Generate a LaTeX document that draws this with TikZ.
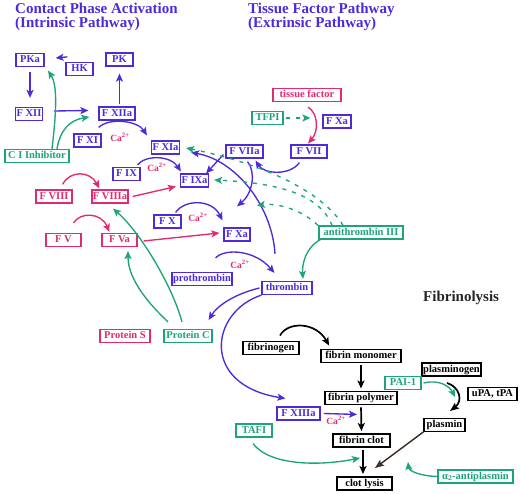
\documentclass[tikz,border=0pt]{standalone}
\usepackage{fontspec}
\setmainfont{Liberation Serif}
\usetikzlibrary{arrows.meta,calc}
\definecolor{cblue}{RGB}{78,42,218}
\definecolor{cpink}{RGB}{226,42,112}
\definecolor{cgreen}{RGB}{28,164,124}
\definecolor{cbrown}{RGB}{165,120,100}
\definecolor{cdark}{RGB}{55,40,32}
\tikzset{
  box/.style={draw, line width=1.2pt, inner xsep=1pt, inner ysep=0pt, minimum height=13pt,
    text height=7.3pt, text depth=2.2pt, font=\bfseries\fontsize{10.5}{12}\selectfont},
  bb/.style={box, draw=cblue, text=cblue},
  pb/.style={box, draw=cpink, text=cpink},
  gb/.style={box, draw=cgreen, text=cgreen},
  kb/.style={box, draw=black, text=black, line width=1.9pt},
  ca/.style={text=cpink, font=\bfseries\fontsize{9.5}{10}\selectfont, inner sep=0pt},
  ttl/.style={text=cblue, font=\bfseries\fontsize{15}{17}\selectfont, inner sep=0pt, anchor=base west},
  tip/.style={-{Stealth[length=8pt,width=7pt,inset=1.8pt]}},
  barrow/.style={tip, draw=cblue, line width=1.35pt},
  parrow/.style={tip, draw=cpink, line width=1.35pt},
  garrow/.style={tip, draw=cgreen, line width=1.35pt},
  gdash/.style={garrow, dash pattern=on 4pt off 6pt},
  karrow/.style={tip, draw=black, line width=1.7pt},
  kbarrow/.style={-{Stealth[length=9pt,width=7pt,inset=1.8pt,fill=cbrown]}, draw=black, line width=1.7pt},
  darrow/.style={-{Stealth[length=9pt,width=7pt,inset=1.8pt,fill=cbrown]}, draw=cdark, line width=1.4pt}
}
\begin{document}
\begin{tikzpicture}[x=1pt,y=-1pt]
\fill[white] (0,0) rectangle (520,494);
\useasboundingbox (0,0) rectangle (520,494);

% titles
\node[ttl] (t1) at (15,13.3) {Contact Phase Activation};
\node[ttl] (t2) at (15,27.8) {(Intrinsic Pathway)};
\node[ttl] (t3) at (248,13.3) {Tissue Factor Pathway};
\node[ttl] (t4) at (248,27.8) {(Extrinsic Pathway)};
\node[anchor=base west, inner sep=0pt, text=black!85, font=\bfseries\fontsize{15}{17}\selectfont] (fib) at (423,301.5) {Fibrinolysis};

% nodes
\node[bb, minimum width=28pt] (PKa) at (30,60) {PKa};
\node[bb, minimum width=27pt] (HK) at (79.5,69) {HK};
\node[bb, minimum width=27pt] (PK) at (119.5,59.5) {PK};
\node[bb, minimum width=26pt] (FXII) at (29,114) {F XII};
\node[bb, minimum width=36pt] (FXIIa) at (117,113.5) {F XIIa};
\node[bb, minimum width=27pt] (FXI) at (87.5,140.5) {F XI};
\node[bb, minimum width=27pt] (FXIa) at (165.5,147.5) {F XIa};
\node[gb, minimum width=64pt] (CI) at (37,156) {C I Inhibitor};
\node[bb, minimum width=27pt] (FIX) at (126.5,174) {F IX};
\node[bb, minimum width=27pt] (FIXa) at (194.5,180.5) {F IXa};
\node[bb, minimum width=37pt] (FVIIa) at (244.5,151.5) {F VIIa};
\node[bb, minimum width=36pt] (FVII) at (309,151.5) {F VII};
\node[pb, minimum width=68pt] (TF) at (307,95) {tissue factor};
\node[gb, minimum width=31pt] (TFPI) at (267.5,118) {TFPI};
\node[bb, minimum width=28pt] (FXat) at (337,121.5) {F Xa};
\node[pb, minimum width=36pt] (FVIII) at (54,196.5) {F VIII};
\node[pb, minimum width=36pt] (FVIIIa) at (110,196.5) {F VIIIa};
\node[pb, minimum width=35pt] (FV) at (63.5,240) {F V};
\node[pb, minimum width=35pt] (FVa) at (119.5,240) {F Va};
\node[bb, minimum width=27pt] (FX) at (167.5,221.5) {F X};
\node[bb, minimum width=26pt] (FXam) at (237,234.5) {F Xa};
\node[bb, minimum width=60pt] (PT) at (202,279) {prothrombin};
\node[bb, minimum width=50pt] (TH) at (287,288) {thrombin};
\node[gb, minimum width=84pt] (AT) at (361,232.5) {antithrombin III};
\node[pb, minimum width=50pt] (PS) at (125,336) {Protein S};
\node[gb, minimum width=48pt] (PC) at (188,336) {Protein C};
\node[kb, minimum width=56pt] (FG) at (271,348) {fibrinogen};
\node[kb, minimum width=80pt] (FM) at (361,356) {fibrin monomer};
\node[kb, minimum width=72pt] (FP) at (361,398) {fibrin polymer};
\node[kb, minimum width=57pt] (FC) at (361.5,440.5) {fibrin clot};
\node[kb, minimum width=55pt] (CL) at (364.5,483.5) {clot lysis};
\node[kb, minimum width=57pt] (PG) at (451.5,369.5) {plasminogen};
\node[gb, minimum width=36pt] (PAI) at (403,383) {PAI-1};
\node[kb, minimum width=49pt] (UPA) at (492.5,394) {uPA, tPA};
\node[kb, minimum width=41pt] (PL) at (444.5,425) {plasmin};
\node[bb, minimum width=43pt] (FXIIIa) at (298.5,413.5) {F XIIIa};
\node[gb, minimum width=36pt] (TAFI) at (254,430.5) {TAFI};
\node[gb, minimum width=75pt] (A2) at (475.5,476.5) {α\textsubscript{2}-antiplasmin};

% Ca2+ labels
\node[ca] (ca1) at (120,137) {Ca\textsuperscript{2+}};
\node[ca] (ca2) at (157,167) {Ca\textsuperscript{2+}};
\node[ca] (ca3) at (198,217) {Ca\textsuperscript{2+}};
\node[ca] (ca4) at (240,264) {Ca\textsuperscript{2+}};
\node[ca] (ca5) at (336,420) {Ca\textsuperscript{2+}};

% free ends
\coordinate (fxpt) at ($(FP.south)+(-4,9)$);
\coordinate (plT) at ($(PL.north)+(5.5,-6.5)$);
\coordinate (paiT) at (455,397);
\coordinate (lysT) at (375,468);
\coordinate (tafiT) at (360,458);
\coordinate (a2T) at (408,462);

% blue connectors
\draw[barrow] ($(HK.north west)+(2,-5)$) -- ($(PKa.east)+(11,-2)$);
\draw[barrow, shorten <=5pt, shorten >=9pt] (PKa.south) -- (PKa.south |- FXII.north);
\draw[barrow] ($(FXII.east)+(11,-3)$) -- ($(FXIIa.west)+(-10,-3)$);
\draw[barrow, shorten <=2pt, shorten >=7pt] (PK.south |- FXIIa.north) -- (PK.south);
\draw[barrow] ($(FXI.north east)+(-3,-6)$) .. controls (110,117) and (138,121) .. ($(FXIa.north west)+(-4,-5)$);
\draw[barrow] ($(FIX.north east)+(-3,-2)$) .. controls (145,155) and (170,155) .. ($(FIXa.north west)+(1,-2)$);
\draw[barrow] ($(FVIIa.south west)+(-2,-4)$) -- ($(FIXa.north east)+(-3,0)$);
\draw[barrow] ($(FVIIa.south)+(3,3)$) .. controls (256,172) and (253,193) .. ($(FXam.north)+(0,-21)$);
\draw[barrow] ($(FVII.south west)+(9,4)$) .. controls (290,176) and (264,174) .. ($(FVIIa.south east)+(-8,2)$);
\draw[barrow] ($(FX.north east)+(-6,-2)$) .. controls (185,199) and (212,199) .. ($(FXam.north west)+(-1,-7)$);
\draw[barrow] ($(TH.north)+(-12,-27)$) .. controls (272,205) and (235,160) .. ($(FXIa.east)+(11,5)$);
\draw[barrow] ($(PT.north east)+(-17,-14)$) .. controls (225,248) and (255,250) .. ($(TH.north west)+(13,-8)$);
\draw[barrow] ($(TH.west)+(-2,0)$) .. controls (235,294) and (218,305) .. ($(PC.north east)+(-4,-9)$);
\draw[barrow] (TH.south west) .. controls (210,312) and (200,385) .. ($(FXIIIa.north west)+(9,-8)$);
\draw[barrow] ($(FXIIIa.east)+(3,0)$) -- (fxpt);

% pink connectors
\draw[parrow] ($(TF.south)+(1,5)$) .. controls (318,113) and (319,131) .. ($(FVII.north)+(-1,-1)$);
\draw[parrow] ($(FVIII.north east)+(-10,-5)$) .. controls (70,170) and (90,171) .. ($(FVIIIa.north west)+(8,-1)$);
\draw[parrow] ($(FV.north east)+(-8,-10)$) .. controls (80,212) and (101,212) .. ($(FVa.north west)+(8,-1)$);
\draw[parrow] ($(FVIIIa.east)+(4,0)$) -- ($(FIXa.west)+(-4,6)$);
\draw[parrow] ($(FVa.east)+(6,1)$) -- ($(FXam.west)+(-4,-1.5)$);

% green connectors
\draw[garrow] ($(CI.north)+(15,0)$) .. controls (56,115) and (58,86) .. ($(PKa.south)+(18,3.5)$);
\draw[garrow] ($(CI.north)+(20,0)$) .. controls (60,130) and (70,120) .. ($(FXIIa.west)+(-9,3.5)$);
\draw[gdash] ($(TFPI.east)+(2,0)$) -- ($(FXat.west)+(-12,-3.5)$);
\draw[gdash] ($(AT.north)+(-18,0)$) .. controls (325,195) and (270,165) .. ($(FXIa.east)+(6,0.5)$);
\draw[gdash] ($(AT.north)+(-29,0)$) .. controls (320,195) and (280,183) .. ($(FIXa.east)+(5,-0.5)$);
\draw[gdash] ($(AT.north)+(-43,0)$) .. controls (300,208) and (275,203) .. ($(FXam.north)+(20,-22)$);
\draw[garrow] ($(AT.south west)+(2,0)$) .. controls (305,248) and (302,265) .. ($(TH.north)+(16,-2)$);
\draw[garrow] ($(PC.north)+(-6,-7)$) .. controls (172,285) and (140,232) .. ($(FVIIIa.south)+(3,5)$);
\draw[garrow] ($(PC.north)+(-20,-7)$) .. controls (150,305) and (128,280) .. ($(FVa.south)+(8.5,4)$);

% fibrinolysis connectors
\draw[karrow] ($(FG.north)+(9,-5)$) .. controls (288,321) and (316,322) .. ($(FM.north west)+(9,-3)$);
\draw[karrow, shorten <=2pt, shorten >=2pt] (FM.south) -- (FP.north);
\draw[karrow, shorten <=2pt, shorten >=2pt] (FP.south) -- (FC.north);
\draw[karrow, shorten <=2pt, shorten >=2pt] ($(FC.south)+(1.5,0)$) -- ($(CL.north)+(-1.5,0)$);
\draw[kbarrow] ($(PG.south)+(-4.5,6)$) .. controls (460,387) and (463,401) .. (plT);
\draw[garrow] ($(PAI.east)+(2,0)$) .. controls (440,379) and (450,387) .. (paiT);
\draw[darrow] ($(PL.south west)+(1,-1)$) -- (lysT);
\draw[garrow] ($(TAFI.south)+(-1,6)$) .. controls (270,466) and (320,466) .. (tafiT);
\draw[garrow] (A2.west) .. controls (420,476) and (409,471) .. (a2T);
\end{tikzpicture}
\end{document}
